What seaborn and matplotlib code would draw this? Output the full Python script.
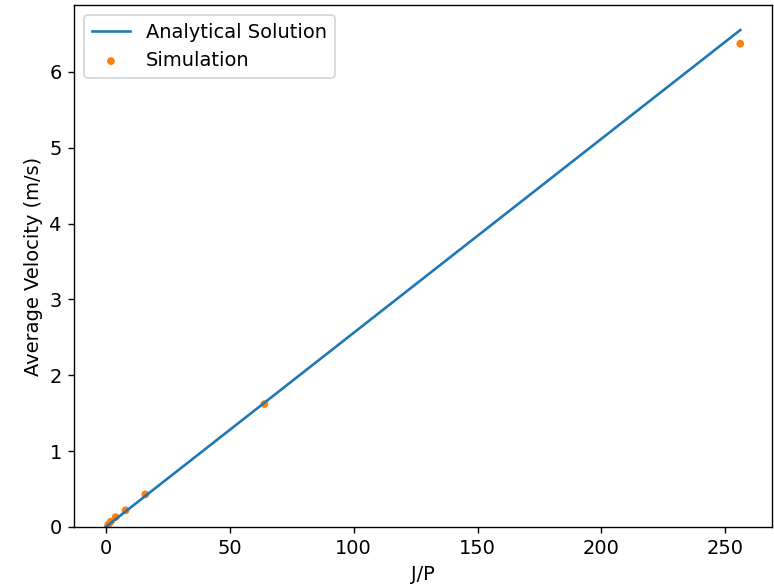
import matplotlib
matplotlib.use("Agg")
import matplotlib.pyplot as plt
import seaborn as sns

# analytical solution (straight line through origin)
jp_line = [0, 256]
vel_line = [0.0, 6.55]

# simulation results
jp_sim = [1, 2, 4, 8, 16, 64, 256]
vel_sim = [0.03, 0.07, 0.13, 0.22, 0.43, 1.62, 6.37]

plt.rcParams['font.family'] = ['DejaVu Sans']
plt.rcParams['font.size'] = 11.2

fig = plt.figure(figsize=(774 / 125, 587 / 125), dpi=125)
ax = fig.add_axes([74 / 774, 60 / 587, 698 / 774, 522 / 587])

sns.lineplot(x=jp_line, y=vel_line, ax=ax, color='#1f77b4', linewidth=1.5,
             label='Analytical Solution')
sns.scatterplot(x=jp_sim, y=vel_sim, ax=ax, color='#ff7f0e', s=20,
                edgecolor='none', label='Simulation')

ax.set_ylim(bottom=0, top=6.88)
ax.set_xlim(-12.8, 268.8)
ax.set_xlabel('J/P')
ax.set_ylabel('Average Velocity (m/s)')
ax.legend(loc='upper left')

fig.savefig('out.png', dpi=125)
